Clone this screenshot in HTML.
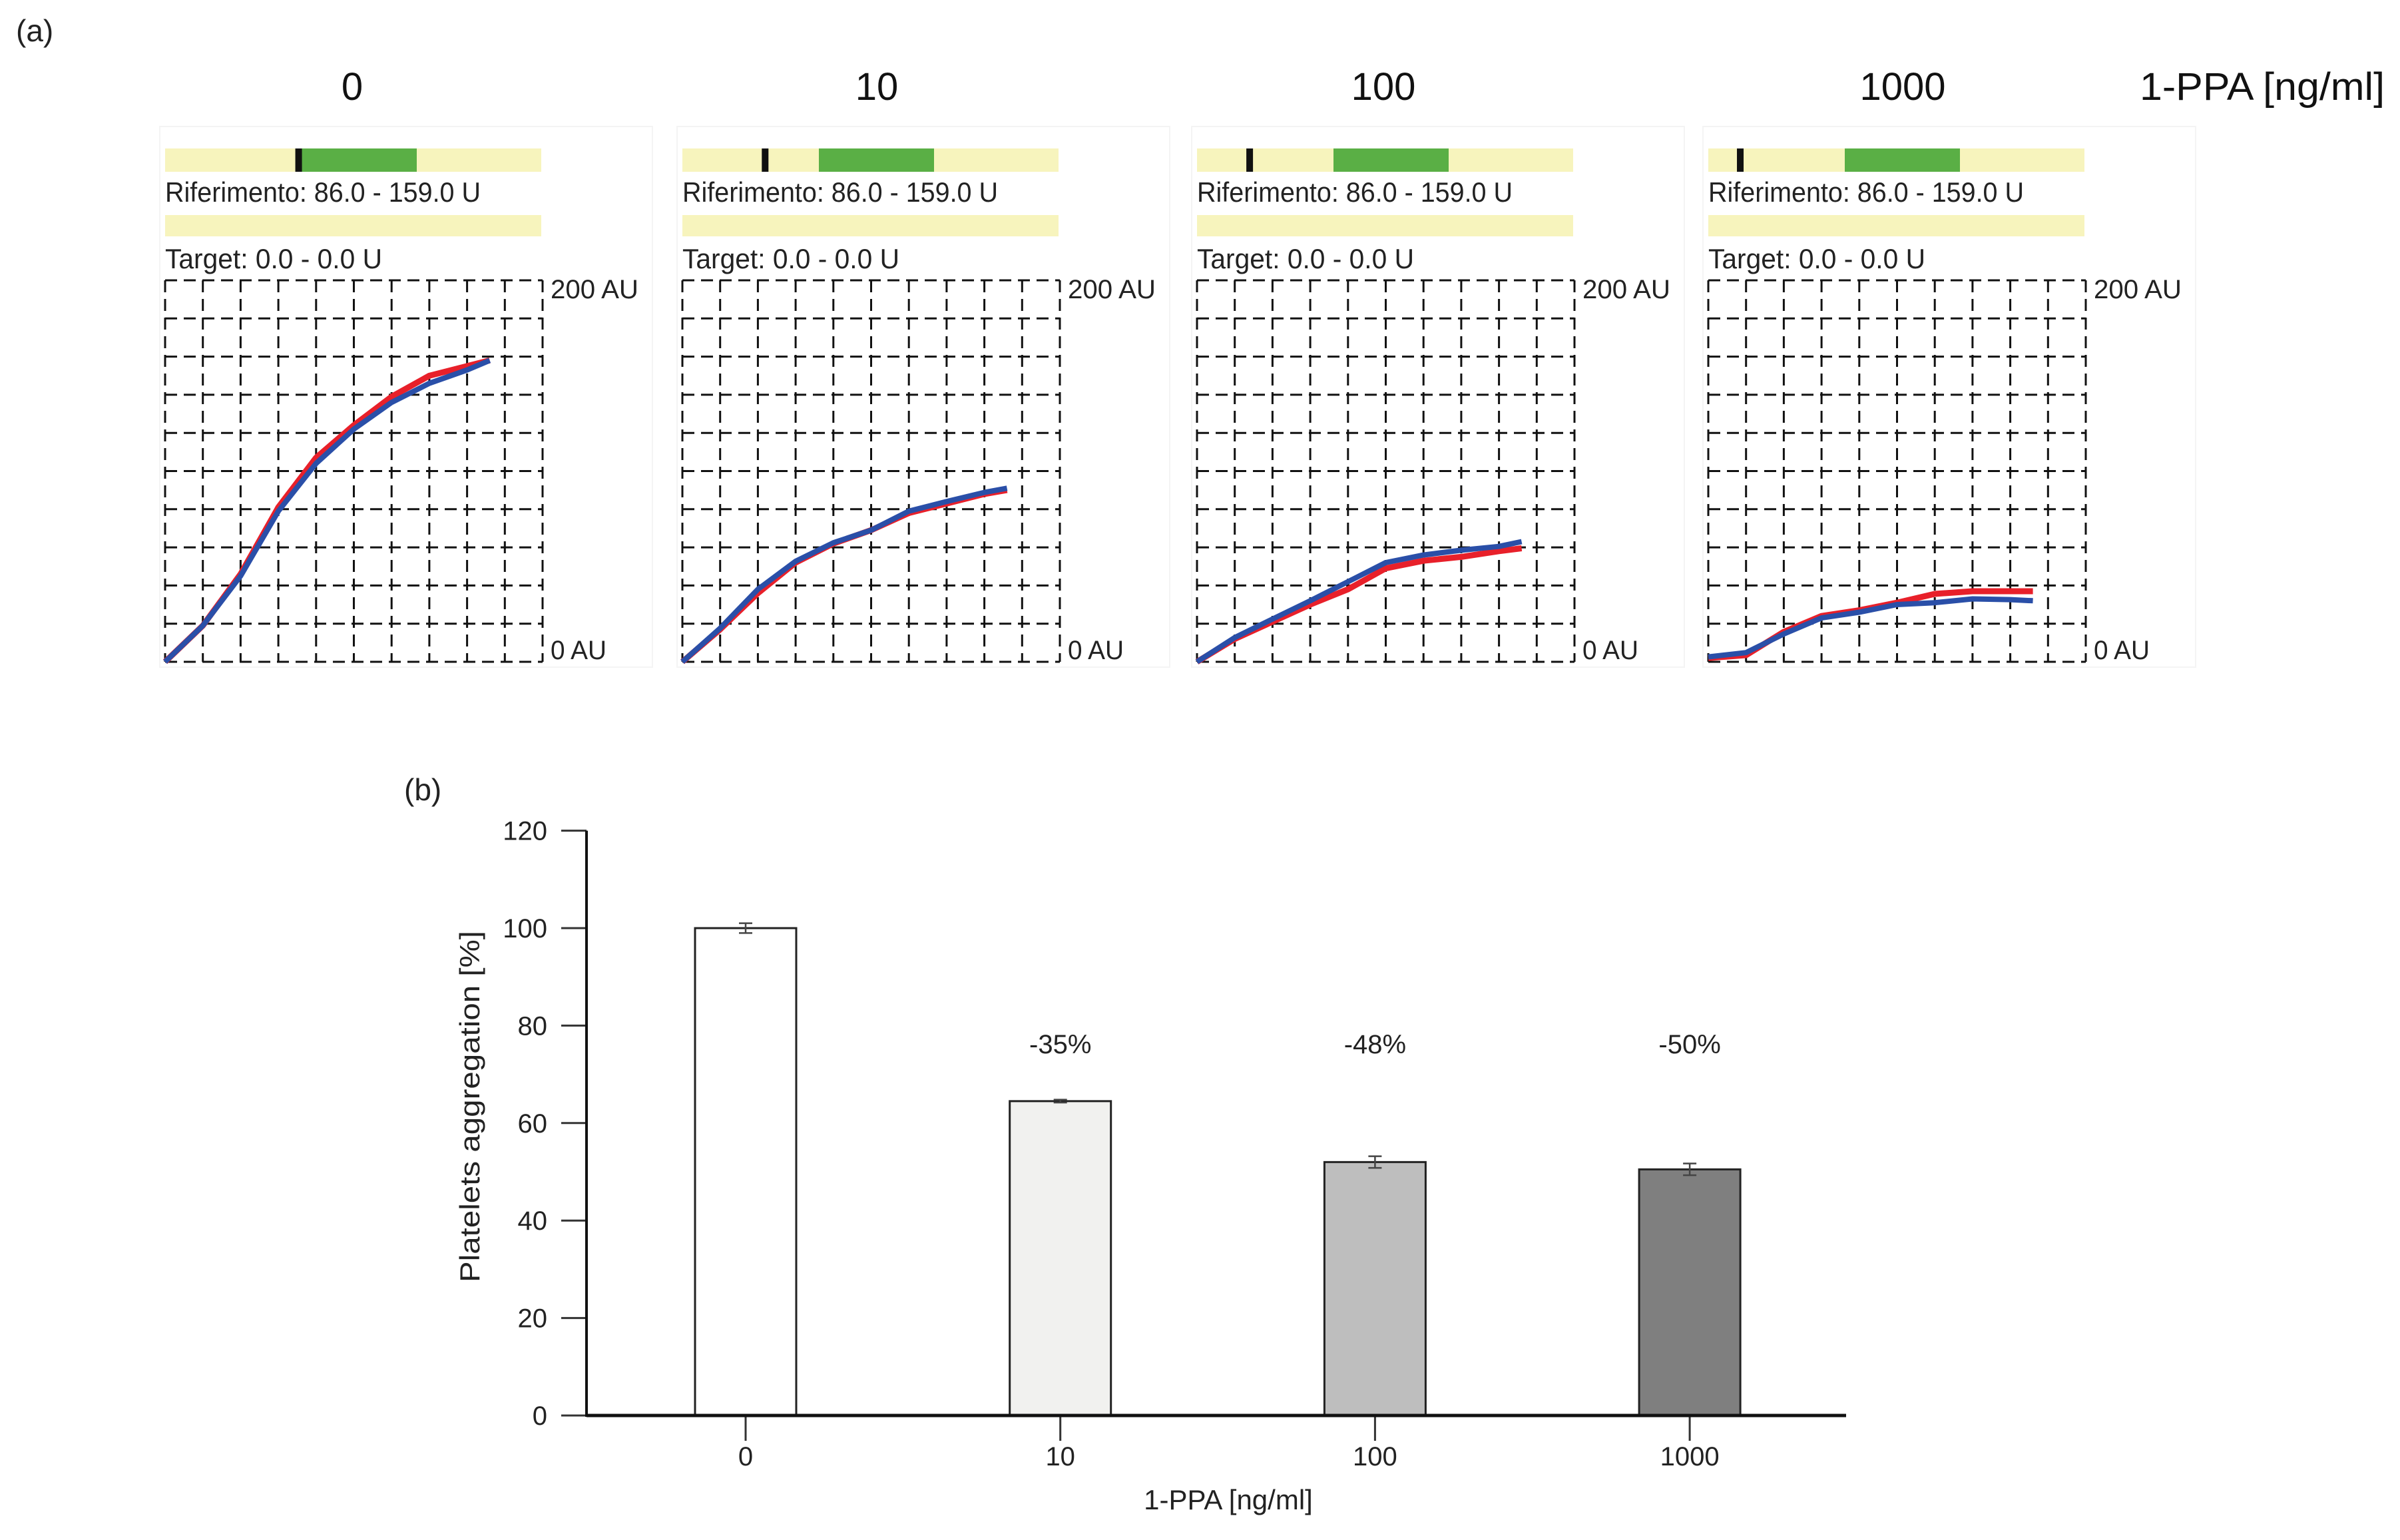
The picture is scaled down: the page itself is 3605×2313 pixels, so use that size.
<!DOCTYPE html>
<html><head><meta charset="utf-8"><style>
html,body{margin:0;padding:0;background:#fff;}
svg{display:block;font-family:"Liberation Sans",sans-serif;}
</style></head><body>
<svg id="fig" width="3605" height="2313" viewBox="0 0 3605 2313" xmlns="http://www.w3.org/2000/svg">
<rect width="3605" height="2313" fill="#fff"/>
<text x="24" y="62" font-size="46" fill="#222">(a)</text>
<text x="3214" y="150" font-size="58" textLength="368" lengthAdjust="spacingAndGlyphs" fill="#111">1-PPA [ng/ml]</text>
<g id="topPanels"></g>
<text x="607" y="1202" font-size="46" fill="#222">(b)</text>
<g id="bottomPanel"></g>
</svg>
<script>
// ---- Panel (a) data ----
const doses = ["0", "10", "100", "1000"];
const timeCols = [0, 1, 2, 3, 4, 5, 6, 7, 8, 8.6];
const blue0 = [0, 19, 45, 79, 104, 122, 136, 146, 153, 158];
const red0  = [0, 19, 46, 81, 107, 124, 139, 150, 155, 158];
const blue1 = [0, 17.6, 38, 52.7, 62.4, 69, 79, 84, 88.8, 91];
const red1  = [0, 17, 36, 52, 62, 69, 78, 83, 88, 90];
const blue2 = [0, 12.7, 22.4, 32, 42, 52, 56, 58.5, 60.5, 63];
const red2  = [0, 12, 21, 30, 38, 49, 53, 55, 58, 59.5];
const blue3 = [2.6, 4.8, 14.6, 23, 26, 30, 31, 33, 32.6, 32];
const red3  = [2, 3.5, 15.7, 24, 27, 31, 35.6, 37, 37, 37];
const markerPos = [71, 44, 28, 17];
const blues = [blue0, blue1, blue2, blue3];
const reds = [red0, red1, red2, red3];

// ---- Panel (b) data ----
const categories = ["0", "10", "100", "1000"];
const values = [100, 64.5, 52, 50.5];
const errors = [1, 0.3, 1.2, 1.2];
const pctLabels = ["", "-35%", "-48%", "-50%"];
const yTicks = [0, 20, 40, 60, 80, 100, 120];
const barColors = ["#ffffff", "#f1f1ef", "#bebebe", "#7f7f7f"];

const NS = "http://www.w3.org/2000/svg";
function mk(tag, attrs, parent, txt) {
  const e = document.createElementNS(NS, tag);
  for (const k in attrs) e.setAttribute(k, attrs[k]);
  if (txt !== undefined) e.textContent = txt;
  parent.appendChild(e);
  return e;
}

// ---- draw panel (a) ----
const topG = document.getElementById('topPanels');
const lefts = [248, 1025, 1798, 2566];
const titleX = [529, 1317, 2078, 2858];
const GW = 567, GT = 421, GB = 994;
doses.forEach((d, i) => {
  const L = lefts[i];
  const g = mk('g', {}, topG);
  
  
  const fr = mk('rect', {x: L - 8, y: 190, width: 740, height: 812, fill: 'none', stroke: '#f4f4f4', 'stroke-width': 2}, g);
  
  
  const t = mk('text', {x: titleX[i], y: 150, 'font-size': 58, 'text-anchor': 'middle', fill: '#111'}, g, d);
  
  
  const yb = mk('rect', {x: L, y: 223, width: 565, height: 35, fill: '#f7f4bd'}, g);
  
  
  const gr = mk('rect', {x: L + 205, y: 223, width: 173, height: 35, fill: '#5aaf45'}, g);
  
  
  const mkx = L + markerPos[i] / 200 * 565;
  const mr = mk('rect', {x: mkx - 5, y: 223, width: 10, height: 35, fill: '#111'}, g);
  
  
  const rt = mk('text', {x: L, y: 303, 'font-size': 42, textLength: 474, lengthAdjust: 'spacingAndGlyphs', fill: '#222'}, g, 'Riferimento: 86.0 - 159.0 U');
  
  
  const yb2 = mk('rect', {x: L, y: 323, width: 565, height: 32, fill: '#f7f4bd'}, g);
  
  
  const tt = mk('text', {x: L, y: 403, 'font-size': 42, textLength: 326, lengthAdjust: 'spacingAndGlyphs', fill: '#222'}, g, 'Target: 0.0 - 0.0 U');
  
  
  const grid = mk('g', {stroke: '#111', 'stroke-width': 3, 'stroke-dasharray': '18 10', fill: 'none'}, g);
  
  
  for (let k = 0; k <= 10; k++) {
    const x = L + k * GW / 10;
    mk('line', {x1: x, y1: GT, x2: x, y2: GB}, grid);
    const y = GT + k * (GB - GT) / 10;
    mk('line', {x1: L, y1: y, x2: L + GW, y2: y}, grid);
  }
  const a1 = mk('text', {x: L + GW + 12, y: 448, 'font-size': 40, textLength: 132, lengthAdjust: 'spacingAndGlyphs', fill: '#222'}, g, '200 AU');
  
  
  const a0 = mk('text', {x: L + GW + 12, y: 990, 'font-size': 40, textLength: 84, lengthAdjust: 'spacingAndGlyphs', fill: '#222'}, g, '0 AU');
  
  
  const xs = c => L + c * GW / 10;
  const ys = v => GB - v / 200 * (GB - GT);
  const path = arr => arr.map((v, j) => (j ? 'L' : 'M') + xs(timeCols[j]).toFixed(1) + ' ' + ys(v).toFixed(1)).join(' ');
  const rp = mk('path', {d: path(reds[i]), stroke: '#e8202a', 'stroke-width': 9, fill: 'none', 'stroke-linejoin': 'round'}, g);
  
  
  const bp = mk('path', {d: path(blues[i]), stroke: '#2a4fa8', 'stroke-width': 8, fill: 'none', 'stroke-linejoin': 'round'}, g);
  
  
});

// ---- draw panel (b) ----
const botG = document.getElementById('bottomPanel');
const AX = 881, Y0 = 2126, PXU = 7.32, X_END = 2773;
const bx = i => 1120 + i * 472.7;
const by = v => Y0 - v * PXU;
const BW = 152;
yTicks.forEach(t => {
  const tl = mk('line', {x1: 843, y1: by(t), x2: AX, y2: by(t), stroke: '#333', 'stroke-width': 3}, botG);
  
  
  const tx = mk('text', {x: 822, y: by(t) + 14, 'font-size': 40, 'text-anchor': 'end', fill: '#222'}, botG, String(t));
  
  
});
categories.forEach((c, i) => {
  const b = mk('rect', {x: bx(i) - BW / 2, y: by(values[i]), width: BW, height: Y0 - by(values[i]), fill: barColors[i], stroke: '#222', 'stroke-width': 3}, botG);
  
  
  const e = mk('g', {stroke: '#444', 'stroke-width': 2.5}, botG);
  
  
  mk('line', {x1: bx(i), y1: by(values[i] + errors[i]), x2: bx(i), y2: by(values[i] - errors[i])}, e);
  mk('line', {x1: bx(i) - 10, y1: by(values[i] + errors[i]), x2: bx(i) + 10, y2: by(values[i] + errors[i])}, e);
  mk('line', {x1: bx(i) - 10, y1: by(values[i] - errors[i]), x2: bx(i) + 10, y2: by(values[i] - errors[i])}, e);
  const xt = mk('line', {x1: bx(i), y1: Y0, x2: bx(i), y2: 2164, stroke: '#333', 'stroke-width': 3}, botG);
  
  
  const xl = mk('text', {x: bx(i), y: 2201, 'font-size': 40, 'text-anchor': 'middle', fill: '#222'}, botG, c);
  
  
  if (pctLabels[i]) {
    const pl = mk('text', {x: bx(i), y: 1582, 'font-size': 40, 'text-anchor': 'middle', fill: '#222'}, botG, pctLabels[i]);
    
    
  }
});
const yax = mk('line', {x1: AX, y1: by(120), x2: AX, y2: Y0 + 2, stroke: '#111', 'stroke-width': 4}, botG);


const xax = mk('line', {x1: AX, y1: Y0, x2: X_END, y2: Y0, stroke: '#111', 'stroke-width': 5}, botG);


const yt = mk('text', {x: 0, y: 0, 'font-size': 42, 'text-anchor': 'middle', textLength: 528, lengthAdjust: 'spacingAndGlyphs', fill: '#222', transform: 'translate(720 1662) rotate(-90)'}, botG, 'Platelets aggregation [%]');


const xtt = mk('text', {x: 1845, y: 2267, 'font-size': 42, 'text-anchor': 'middle', fill: '#222'}, botG, '1-PPA [ng/ml]');


</script>
</body></html>
